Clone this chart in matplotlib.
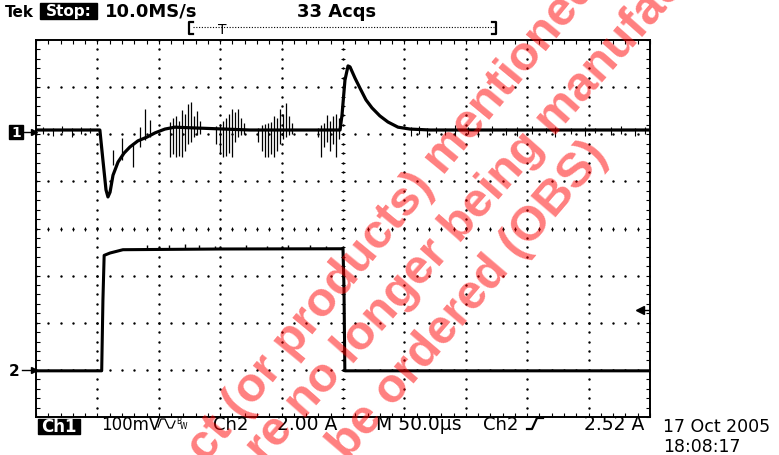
import numpy as np
import matplotlib
matplotlib.use("Agg")
import matplotlib.pyplot as plt
from matplotlib.lines import Line2D
from matplotlib.transforms import Affine2D

# scope settings: 50 us/div, ch1 100 mV/div, ch2 2.00 A/div
ch1_pos = 2.09   # divisions
ch2_pos = -3.02
ch1_scale = 100.0
ch2_scale = 2.0

# ch1 (mV) main shape
ch1_t = [0, 52, 54.5, 57, 58.6, 60.3, 62.7, 66.8, 71.7, 76.5, 83, 90.4, 97, 105,
         113, 133, 174, 247.6, 249.2, 251.6, 254.1, 255.7, 259.8, 263.8, 268.7,
         273.6, 280, 286.6, 294.8, 304.6, 321, 500]
ch1_mv = [0, 0, -64, -127, -142, -132, -96, -68, -49, -36, -23, -15, -6, 2,
          6, 4, 0, 0, 32, 106, 136, 134, 110, 89, 64,
          47, 30, 17, 6, 2, 0, 0]

# ch1 ringing spikes (time us, low mV, high mV)
spike_t = [62.7, 70, 79, 84.7, 88.8, 92.8,
           109.5, 111.6, 114, 116.4, 118.9, 121.3, 123.8, 126.2, 128.7, 131.1, 133.5,
           146.6, 149.8, 152.3, 154.7, 157.2, 159.6, 162, 164.5, 167, 169.4,
           180.8, 184, 186.5, 189, 191.4, 193.8, 196.2, 198.7, 201.1, 203.6, 206, 208.5,
           229.6, 232, 234.5, 237, 239.4, 241.8, 244.3, 246.7]
spike_lo = [-74, -64, -79, -36, -21, -15,
            -57, -51, -57, -55, -57, -45, -30, -25, -15, -10, -8,
            -30, -50, -57, -55, -48, -57, -25, -15, -10, -8,
            -25, -45, -57, -57, -50, -57, -45, -30, -20, -15, -10, -8,
            -15, -57, -35, -25, -45, -30, -57, -20]
spike_hi = [-42, -17, -28, 6, 45, 21,
            17, 25, 30, 20, 42, 35, 55, 60, 30, 40, 20,
            8, 12, 20, 25, 35, 45, 38, 45, 25, 15,
            5, 10, 12, 15, 18, 30, 25, 45, 35, 57, 30, 15,
            5, 10, 15, 32, 20, 30, 35, 25]

# small baseline noise on ch1
noise_t = [6, 14, 21, 29, 37, 44, 305, 312, 318, 326, 333, 341, 352, 360, 371,
           383, 392, 404, 415, 423, 436, 447, 455, 468, 476, 488, 496]
noise_lo = [-8, -12, -6, -14, -9, -6, -12, -8, -14, -6, -10, -12, -8, -14, -6,
            -10, -12, -8, -6, -14, -9, -12, -6, -10, -8, -12, -9]
noise_hi = [6, 4, 8, 5, 6, 4, 6, 9, 4, 7, 5, 10, 6, 4, 8,
            5, 6, 8, 4, 6, 5, 7, 4, 6, 8, 5, 6]

# ch2 (A)
ch2_t = [0, 53.5, 54.5, 55.5, 60.3, 70.8, 150, 250, 250.8, 251.5, 500]
ch2_a = [0, 0, 3.0, 4.9, 5.0, 5.14, 5.17, 5.18, 3.5, 0, 0]
bump_t = [90, 108, 121, 133, 146, 171, 188, 205, 223, 236]
bump_a = [5.35, 5.32, 5.38, 5.33, 5.3, 5.34, 5.3, 5.33, 5.36, 5.3]

# watermark lines
wm_lines = ["ct (or products) mentioned on this page",
            "re no longer being manufactured and",
            "be ordered (OBS)"]

fig = plt.figure(figsize=(7.79, 4.55), dpi=100)
W, H = 779, 455
pix = Affine2D().scale(1 / W, -1 / H).translate(0, 1) + fig.transFigure

ax = fig.add_axes([36 / W, 38 / H, 614 / W, 377 / H])
ax.set_xlim(0, 500)
ax.set_ylim(-4, 4)
ax.set_xticks(np.arange(0, 501, 50))
ax.set_xticks(np.arange(0, 501, 10), minor=True)
ax.set_yticks(np.arange(-4, 4.01, 1))
ax.set_yticks(np.arange(-4, 4.01, 0.2), minor=True)
ax.tick_params(which="both", direction="in", length=3, width=0.8, top=True,
               right=True, labelbottom=False, labelleft=False, color="black")
for s in ax.spines.values():
    s.set_linewidth(1.4)

# graticule dots
ydots = np.arange(-4, 4.01, 0.2)
xdots = np.arange(0, 501, 10)
for xv in range(50, 500, 50):
    ax.plot([xv] * len(ydots), ydots, ls="", marker="s", ms=0.7, color="black")
for yv in range(-3, 4):
    ax.plot(xdots, [yv] * len(xdots), ls="", marker="s", ms=0.7, color="black")
ax.plot(xdots, [0] * len(xdots), ls="", marker="|", ms=3.5, mew=0.7, color="black")
ax.plot([250] * len(ydots), ydots, ls="", marker="_", ms=3.5, mew=0.7, color="black")

# traces
ch1_y = ch1_pos + np.array(ch1_mv) / ch1_scale
ax.plot(ch1_t, ch1_y, color="black", lw=2.3)
ax.vlines(spike_t, ch1_pos + np.array(spike_lo) / ch1_scale,
          ch1_pos + np.array(spike_hi) / ch1_scale, color="black", lw=0.9)
ax.vlines(noise_t, ch1_pos + np.array(noise_lo) / ch1_scale,
          ch1_pos + np.array(noise_hi) / ch1_scale, color="black", lw=0.8)

ch2_y = ch2_pos + np.array(ch2_a) / ch2_scale
ax.plot(ch2_t, ch2_y, color="black", lw=2.2)
ax.vlines(bump_t, ch2_pos + 5.17 / ch2_scale, ch2_pos + np.array(bump_a) / ch2_scale,
          color="black", lw=1.0)

# top status line
font = "DejaVu Sans"
fig.text(5, 17, "Tek", transform=pix, fontsize=11, fontweight="bold", family=font)
fig.add_artist(plt.Rectangle((40, 3), 57, 16, transform=pix, color="black"))
fig.text(68.5, 16, "Stop:", transform=pix, fontsize=11, fontweight="bold",
         color="white", ha="center", family=font)
fig.text(105, 17, "10.0MS/s", transform=pix, fontsize=13, fontweight="bold",
         family=font)
fig.text(297, 17, "33 Acqs", transform=pix, fontsize=13, fontweight="bold",
         family=font)

# record bar
fig.add_artist(Line2D([193, 189, 189, 193], [22, 22, 34, 34], transform=pix,
                      color="black", lw=1.6))
fig.add_artist(Line2D([193, 494], [27, 27], transform=pix, color="black",
                      lw=0.8, ls=(0, (1, 1.5))))
fig.add_artist(Line2D([492, 496, 496, 492], [22, 22, 34, 34], transform=pix,
                      color="black", lw=1.6))
fig.text(222, 34, "T", transform=pix, fontsize=10, ha="center", family=font)

# channel markers
fig.add_artist(plt.Rectangle((9, 125), 14, 14, transform=pix, color="black"))
fig.text(16, 137, "1", transform=pix, fontsize=10, fontweight="bold",
         color="white", ha="center", family=font)
fig.add_artist(Line2D([23, 33], [132, 132], transform=pix, color="black", lw=1))
fig.add_artist(Line2D([34], [132], transform=pix, color="black", marker=">",
                      ms=4, ls=""))
fig.text(9, 376, "2", transform=pix, fontsize=11, fontweight="bold", family=font)
fig.add_artist(Line2D([22, 33], [370, 370], transform=pix, color="black", lw=1))
fig.add_artist(Line2D([34], [370], transform=pix, color="black", marker=">",
                      ms=4, ls=""))
# trigger level
fig.add_artist(Line2D([640, 649], [310, 310], transform=pix, color="black", lw=1))
fig.add_artist(Line2D([640], [310], transform=pix, color="black", marker="<",
                      ms=6, ls=""))

# bottom status line
fig.add_artist(plt.Rectangle((38, 419), 42, 15, transform=pix, color="black"))
fig.text(59, 432, "Ch1", transform=pix, fontsize=12, fontweight="bold",
         color="white", ha="center", family=font)
fig.text(101, 430, "100mV", transform=pix, fontsize=12, family=font)
fig.add_artist(Line2D([158, 161, 165, 169, 172, 175], [427, 419, 419, 428, 428, 421],
                      transform=pix, color="black", lw=0.9))
fig.text(176, 424, "B", transform=pix, fontsize=5.5, family=font)
fig.text(180, 429, "W", transform=pix, fontsize=5.5, family=font)
fig.text(213, 430, "Ch2", transform=pix, fontsize=13, family=font)
fig.text(277, 430, "2.00 A", transform=pix, fontsize=13.5, family=font)
fig.text(376, 430, "M 50.0\u00b5s", transform=pix, fontsize=13.5, family=font)
fig.text(483, 430, "Ch2", transform=pix, fontsize=13, family=font)
fig.add_artist(Line2D([527, 532, 537, 543], [429, 429, 418, 418], transform=pix,
                      color="black", lw=1.6))
fig.text(584, 430, "2.52 A", transform=pix, fontsize=13.5, family=font)
fig.text(663, 432, "17 Oct 2005", transform=pix, fontsize=12.5, family=font)
fig.text(663, 452, "18:08:17", transform=pix, fontsize=12.5, family=font)

# watermark
wm = dict(transform=pix, rotation_mode="anchor", ha="left", va="baseline",
          color="red", alpha=0.5, fontsize=35, fontweight="bold",
          family="Liberation Sans", zorder=10)
fig.text(206, 464, wm_lines[0], rotation=50.5, **wm)
fig.text(265, 464, wm_lines[1], rotation=48.5, **wm)
fig.text(347, 462, wm_lines[2], rotation=49.5, **wm)

fig.savefig("out.png", dpi=100)
